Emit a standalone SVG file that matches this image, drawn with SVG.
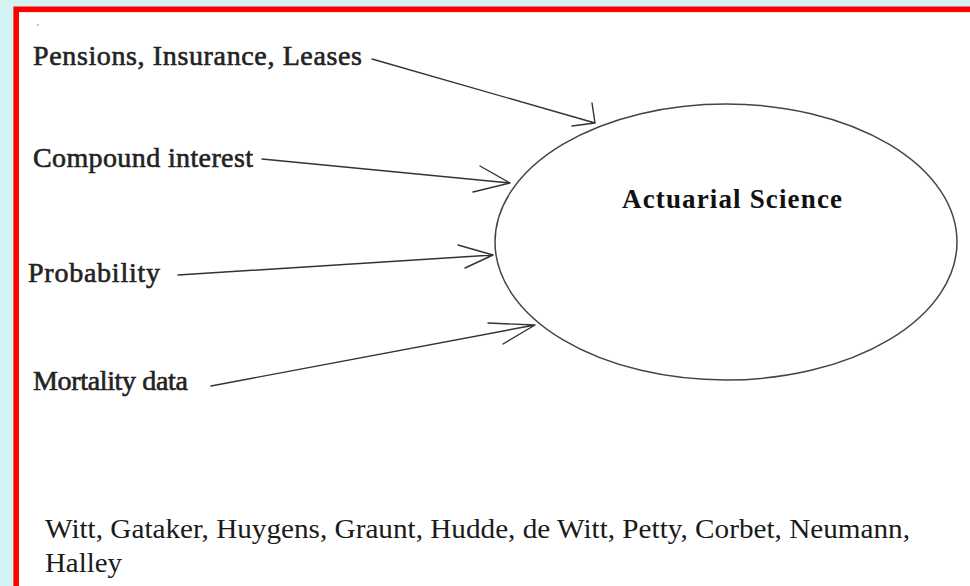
<svg xmlns="http://www.w3.org/2000/svg" width="970" height="586" viewBox="0 0 970 586">
  <style>
    .lbl { font-family: "Liberation Serif", "Times New Roman", serif; font-size: 28px; fill: #222; stroke: #222; stroke-width: 0.6; }
    .title { font-family: "Liberation Serif", "Times New Roman", serif; font-size: 27px; font-weight: bold; fill: #111; }
    .names { font-family: "Liberation Serif", "Times New Roman", serif; font-size: 28px; fill: #1a1a1a; }
    .con { fill: none; stroke: #333; stroke-width: 1.4; stroke-linecap: round; stroke-linejoin: round; }
  </style>
  <rect x="0" y="0" width="970" height="586" fill="#d4f4f4"/>
  <rect x="16.2" y="9.3" width="980" height="600" fill="#ffffff" stroke="#ff0000" stroke-width="5.6"/>
  <circle cx="38" cy="25" r="0.9" fill="#aaaaaa"/>

  <g id="node-actuarial-science">
    <ellipse cx="726" cy="242" rx="231" ry="138" fill="none" stroke="#444" stroke-width="1.5"/>
    <text class="title" x="622" y="208" textLength="220" lengthAdjust="spacing">Actuarial Science</text>
  </g>
  <g id="node-pensions">
    <text class="lbl" x="33" y="65" textLength="329" lengthAdjust="spacing">Pensions, Insurance, Leases</text>
  </g>
  <g id="node-compound">
    <text class="lbl" x="33" y="167" textLength="220" lengthAdjust="spacing">Compound interest</text>
  </g>
  <g id="node-probability">
    <text class="lbl" x="28" y="282" textLength="132" lengthAdjust="spacing">Probability</text>
  </g>
  <g id="node-mortality">
    <text class="lbl" x="33" y="390" textLength="155" lengthAdjust="spacing">Mortality data</text>
  </g>
  <g id="node-names">
    <text class="names" x="45" y="538" textLength="865" lengthAdjust="spacingAndGlyphs">Witt, Gataker, Huygens, Graunt, Hudde, de Witt, Petty, Corbet, Neumann,</text>
    <text class="names" x="45" y="572" textLength="77" lengthAdjust="spacingAndGlyphs">Halley</text>
  </g>

  <g id="connectors">
    <path class="con" d="M372 59 L595 123 M592 103 L595 123 L572 126"/>
    <path class="con" d="M262 159 L510 183 M480 166 L510 183 L473 192"/>
    <path class="con" d="M178 275 L493 255 M458 245 L493 255 L465 268"/>
    <path class="con" d="M211 386 L535 325 M488 323 L535 325 L503 344"/>
  </g>
</svg>
